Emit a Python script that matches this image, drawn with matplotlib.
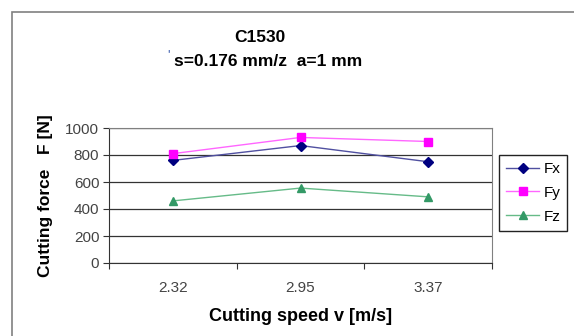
import matplotlib.pyplot as plt
from matplotlib.patches import Rectangle

plt.rcParams['font.family'] = ['Liberation Sans', 'DejaVu Sans']

# cutting speed categories and force components
speeds = ['2.32', '2.95', '3.37']
fx = [760, 870, 750]
fy = [810, 930, 900]
fz = [460, 555, 490]

W, H = 574, 336
fig = plt.figure(figsize=(W / 100, H / 100), dpi=100)
fig.patch.set_facecolor('white')

# chart area border
fig.patches.append(Rectangle((12 / W, -0.1), 1.2, 1 - 12 / H + 0.1,
                             transform=fig.transFigure, fill=False,
                             edgecolor='#808080', lw=1.2))

ax = fig.add_axes([109 / W, 1 - 263 / H, (492 - 109) / W, (263 - 128) / H])
x = range(len(speeds))

ax.plot(x, fx, color='#5050a0', lw=1, marker='D', ms=5,
        mfc='#000080', mec='#000080', label='Fx')
ax.plot(x, fy, color='#ff66ff', lw=1, marker='s', ms=6,
        mfc='#ff00ff', mec='#ff00ff', label='Fy')
ax.plot(x, fz, color='#66bb88', lw=1, marker='^', ms=6,
        mfc='#339966', mec='#339966', label='Fz')

ax.set_xlim(-0.5, 2.5)
ax.set_ylim(0, 1000)
ax.set_yticks(range(0, 1001, 200))
ax.set_xticks([-0.5, 0.5, 1.5, 2.5])
ax.set_xticklabels([])
ax.set_xticks(list(x), minor=True)
ax.set_xticklabels(speeds, minor=True)
ax.tick_params(axis='x', which='minor', length=0, pad=13,
               labelsize=11, labelcolor='#444444')
ax.tick_params(axis='x', which='major', length=4, color='#333333', direction='out')
ax.tick_params(axis='y', length=4, color='#333333', labelsize=11,
               labelcolor='#444444', pad=3)

ax.yaxis.grid(True, color='#333333', lw=0.9)
ax.set_axisbelow(True)
for side in ['top', 'right']:
    ax.spines[side].set_color('#808080')
for side in ['left', 'bottom']:
    ax.spines[side].set_color('#333333')

ax.set_ylabel('Cutting force   F [N]', fontsize=12.5, fontweight='bold', labelpad=9)
ax.set_xlabel('Cutting speed v [m/s]', fontsize=13, fontweight='bold', labelpad=9)

fig.text(260 / W, 1 - 38 / H, 'C1530', ha='center', va='center',
         fontsize=12.5, fontweight='bold')
fig.text(268 / W, 1 - 62 / H, 's=0.176 mm/z  a=1 mm', ha='center', va='center',
         fontsize=12.5, fontweight='bold')
fig.text(169 / W, 1 - 55 / H, "'", ha='center', va='center',
         fontsize=9, color='#3355aa')

leg = ax.legend(loc='upper left', bbox_to_anchor=(499 / W, 1 - 155 / H),
                bbox_transform=fig.transFigure, fancybox=False, fontsize=11,
                edgecolor='#222222', framealpha=1, handlelength=2.2,
                labelspacing=0.65, borderpad=0.45, handletextpad=0.25,
                borderaxespad=0)
leg.get_frame().set_linewidth(1)

fig.savefig('out.png', dpi=100)
